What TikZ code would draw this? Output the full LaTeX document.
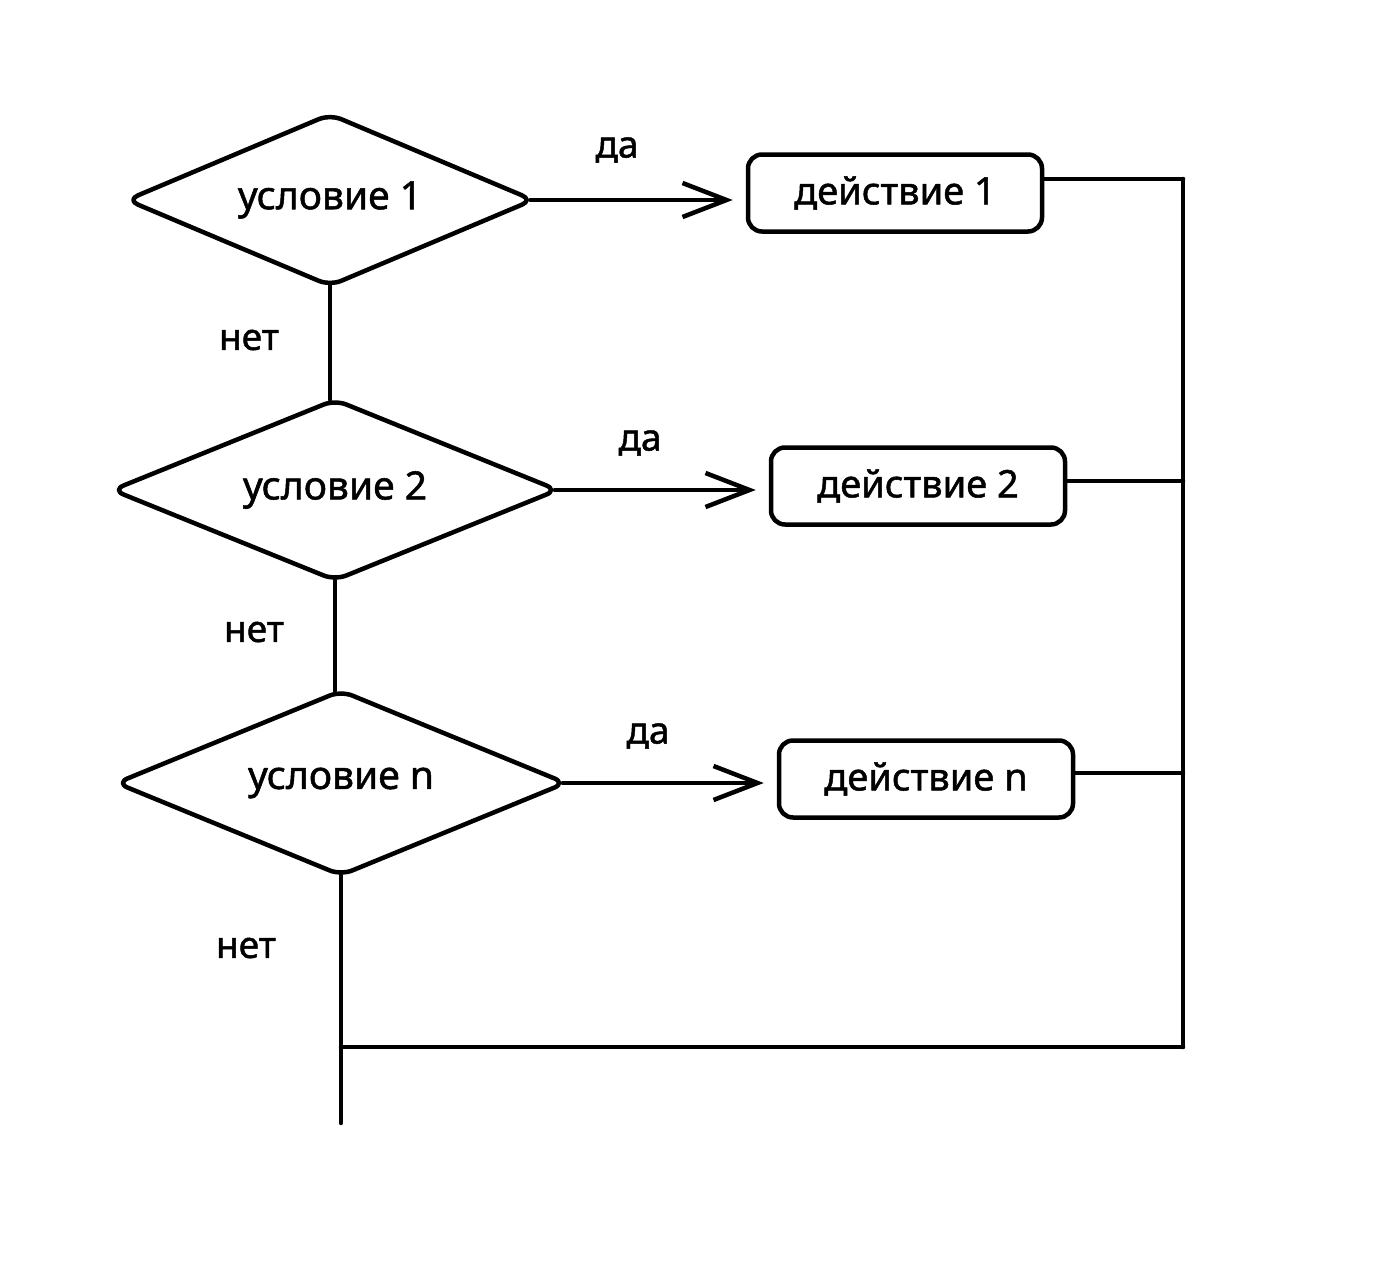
\documentclass[tikz,border=0pt]{standalone}
\usepackage{fontspec}
\setmainfont{Noto Sans}[FakeBold=1.3]
\usetikzlibrary{shapes.geometric,arrows.meta,calc}
\begin{document}
\begin{tikzpicture}[x=1pt,y=-1pt,
  line width=4.5pt, line cap=round, line join=round,
  cond/.style={draw, diamond, aspect=2.4, inner sep=0pt, rounded corners=12pt,
    font=\fontsize{39}{44}\selectfont},
  act/.style={draw, rectangle, rounded corners=14pt, inner sep=0pt,
    minimum width=294pt, minimum height=77pt, font=\fontsize{38}{44}\selectfont},
  lbl/.style={font=\fontsize{37}{42}\selectfont, inner sep=0pt},
  yes/.style={-{Straight Barb[length=44pt,width=34pt]}, shorten >=13pt, shorten <=-6pt},
  no/.style={shorten <=-3pt, shorten >=-3pt}]
\useasboundingbox (0,0) rectangle (1376,1266);

% decisions
\node[cond, minimum width=408pt, minimum height=173pt] (c1) at (330,200) {условие 1};
\node[cond, minimum width=447pt, minimum height=182pt] (c2) at (335,490) {условие 2};
\node[cond, minimum width=451pt, minimum height=186pt] (c3) at (341,783) {условие n};

% actions
\node[act] (a1) at (895,193) {действие 1};
\node[act] (a2) at (918,486) {действие 2};
\node[act] (a3) at (926,779) {действие n};

% branch labels
\node[lbl] (y1) at (617,150) {да};
\node[lbl] (y2) at (640,443) {да};
\node[lbl] (y3) at (648,736) {да};
\node[lbl] (n1) at (249,340) {нет};
\node[lbl] (n2) at (254,632) {нет};
\node[lbl] (n3) at (246,948) {нет};

% "yes" branches
\draw[yes] (c1.east) -- (c1.east -| a1.west);
\draw[yes] (c2.east) -- (c2.east -| a2.west);
\draw[yes] (c3.east) -- (c3.east -| a3.west);

% "no" chain
\draw[no] (c1.south) -- (c1.south |- c2.north);
\draw[no] (c2.south) -- (c2.south |- c3.north);
\coordinate (out) at (341,1120);
\draw[no] (c3.south) -- (out);

% collecting bus on the right
\coordinate (j1) at (1183,179);
\coordinate (j2) at (1183,481);
\coordinate (j3) at (1183,773);
\coordinate (j4) at (1183,1047);
\draw (a1.east |- j1) -- (j1);
\draw (a2.east |- j2) -- (j2);
\draw (a3.east |- j3) -- (j3);
\draw (j1) -- (j4);
\draw (j4) -- (j4 -| out);
\end{tikzpicture}
\end{document}
